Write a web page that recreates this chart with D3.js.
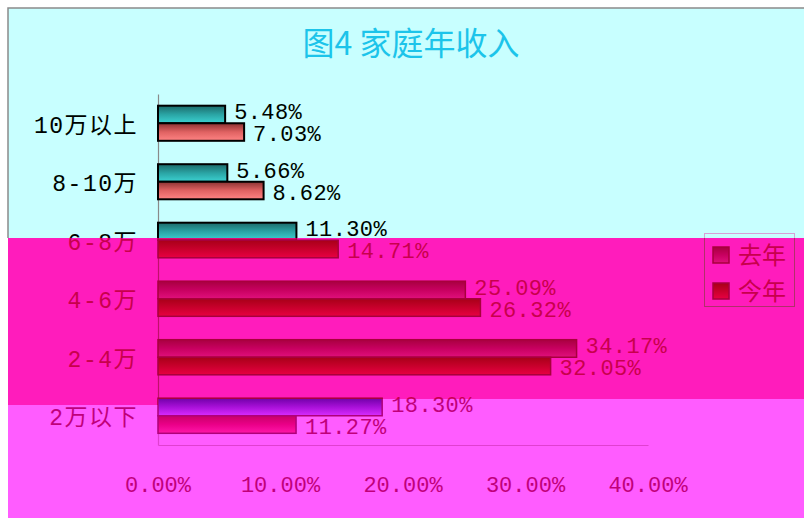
<!DOCTYPE html>
<html>
<head>
<meta charset="utf-8">
<script src="https://cdn.jsdelivr.net/npm/d3@7"></script>
<style>
  html, body { margin: 0; padding: 0; background: #ffffff; }
  svg { display: block; }
</style>
</head>
<body>
<svg id="chart" width="804" height="518"></svg>
<script>
// Household annual income, last year vs this year
const categories = ['10万以上', '8-10万', '6-8万', '4-6万', '2-4万', '2万以下'];
const seriesNames = ['去年', '今年'];
const lastYear = [5.48, 5.66, 11.30, 25.09, 34.17, 18.30];
const thisYear = [7.03, 8.62, 14.71, 26.32, 32.05, 11.27];
const xTicks = [0, 10, 20, 30, 40];
const title = '图4 家庭年收入';

const W = 804, H = 518;
const svg = d3.select('#chart');
const defs = svg.append('defs');

const x = d3.scaleLinear().domain([0, 40]).range([158, 648]);
const y = d3.scaleBand().domain(categories).range([94, 445])
  .paddingInner(0.4).paddingOuter(0.2);
const ys = d3.scaleBand().domain(seriesNames).range([0, y.bandwidth()]);
const pct = v => d3.format('.2f')(v) + '%';

const rows = categories.map((c, i) => ({ cat: c, values: [lastYear[i], thisYear[i]] }));
const bars = rows.flatMap(r => r.values.map((v, si) => ({ cat: r.cat, v, si, s: seriesNames[si] })));

// strip boundaries (the middle strip reaches a little lower left of the axis)
const stripTop = 238, stripBot = 399, stripBotLeft = 405;

// Three colour schemes, each shown in its own horizontal strip of the page
const palettes = [
  {
    id: 'top',
    clip: `M0,0H${W}V${stripTop}H0Z`,
    bg: '#c8ffff', frame: '#8a8a8a', text: '#000000',
    axis: '#8a8a8a', barStroke: '#000000', barStrokeW: 2, legendStroke: '#d8a0d8',
    grads: [['#1c6a6a', '#2aa4a4', '#3cd2d2'], ['#8a3232', '#e06262', '#ff8484']]
  },
  {
    id: 'mid',
    clip: `M0,${stripTop}H${W}V${stripBot}H158V${stripBotLeft}H0Z`,
    bg: '#ff1cbc', frame: null, text: '#c8004c',
    axis: '#c0106a', barStroke: '#a8003c', barStrokeW: 1.5, legendStroke: '#b0306a',
    grads: [['#a80040', '#c80060', '#e0107c'], ['#a80018', '#c8002c', '#e80042']]
  },
  {
    id: 'bot',
    clip: `M158,${stripBot}H${W}V${H}H0V${stripBotLeft}H158Z`,
    bg: '#ff5cff', frame: null, text: '#c0007a',
    axis: '#e040d0', barStroke: '#b0007a', barStrokeW: 1.5, legendStroke: '#b0007a',
    grads: [['#7000a8', '#a810d8', '#d82cff'], ['#c80068', '#ea0088', '#ff16aa']]
  }
];

// text colour switches at the strip edges (page coordinates)
function textGradient(id, lower) {
  const g = defs.append('linearGradient').attr('id', id)
    .attr('gradientUnits', 'userSpaceOnUse')
    .attr('x1', 0).attr('y1', 0).attr('x2', 0).attr('y2', H);
  [[0, 0], [stripTop, 0], [stripTop, 1], [lower, 1], [lower, 2], [H, 2]]
    .forEach(([yy, k]) => g.append('stop')
      .attr('offset', yy / H).attr('stop-color', palettes[k].text));
}
textGradient('text-fill', stripBot);
textGradient('text-fill-left', stripBotLeft);

function drawLayer(p) {
  defs.append('clipPath').attr('id', 'clip-' + p.id)
    .append('path').attr('d', p.clip);

  p.grads.forEach((stops, si) => {
    const g = defs.append('linearGradient').attr('id', `grad-${p.id}-${si}`)
      .attr('x1', 0).attr('y1', 0).attr('x2', 0).attr('y2', 1);
    stops.forEach((c, k) => g.append('stop')
      .attr('offset', k / (stops.length - 1)).attr('stop-color', c));
  });

  const layer = svg.append('g').attr('clip-path', `url(#clip-${p.id})`);

  // chart area background and frame
  layer.append('rect').attr('x', 8).attr('y', 8)
    .attr('width', W + 10).attr('height', H + 10)
    .attr('fill', p.bg)
    .attr('stroke', p.frame || 'none').attr('stroke-width', 1.5);

  // axis lines
  const yAxis = layer.append('g').attr('transform', `translate(${x(0)},0)`)
    .call(d3.axisLeft(y).tickSize(0).tickSizeOuter(0).tickFormat(''));
  yAxis.select('.domain').attr('stroke', p.axis).attr('stroke-width', 1.2);
  yAxis.selectAll('.tick').remove();

  const xAxis = layer.append('g').attr('transform', `translate(0,${y.range()[1]})`)
    .call(d3.axisBottom(x).tickValues(xTicks).tickSize(0).tickSizeOuter(0).tickFormat(''));
  xAxis.select('.domain').attr('stroke', p.axis).attr('stroke-width', 1.2);
  xAxis.selectAll('.tick').remove();

  // bars
  layer.append('g').selectAll('rect').data(bars).join('rect')
    .attr('x', x(0))
    .attr('y', d => y(d.cat) + ys(d.s))
    .attr('width', d => x(d.v) - x(0))
    .attr('height', ys.bandwidth())
    .attr('fill', d => `url(#grad-${p.id}-${d.si})`)
    .attr('stroke', p.barStroke).attr('stroke-width', p.barStrokeW);

  // legend box and keys
  layer.append('rect').attr('x', 704.5).attr('y', 233.5)
    .attr('width', 90).attr('height', 73)
    .attr('fill', 'none').attr('stroke', p.legendStroke).attr('stroke-width', 1);
  seriesNames.forEach((s, si) => {
    layer.append('rect').attr('x', 713).attr('y', 247 + si * 36)
      .attr('width', 16).attr('height', 16)
      .attr('fill', `url(#grad-${p.id}-${si})`)
      .attr('stroke', p.barStroke).attr('stroke-width', 1.5);
  });
}

palettes.forEach(drawLayer);

// ---- texts, drawn once on top of all strips, in page coordinates ----
const texts = svg.append('g');
const monoCjk = '"Liberation Mono", "Noto Sans CJK SC", monospace';

texts.append('text').attr('x', 411).attr('y', 43).attr('dy', '0.36em')
  .attr('text-anchor', 'middle')
  .attr('font-family', '"Noto Sans CJK SC", sans-serif')
  .attr('font-size', 32).attr('fill', '#1cc4ea')
  .text(title);

// category labels
texts.append('g').selectAll('text').data(categories).join('text')
  .attr('x', x(0) - 20)
  .attr('y', d => y(d) + y.bandwidth() / 2)
  .attr('dy', '0.42em')
  .attr('text-anchor', 'end')
  .attr('font-family', monoCjk)
  .attr('font-size', 23).attr('letter-spacing', 1.5)
  .attr('fill', 'url(#text-fill-left)')
  .text(d => d);

// value-axis tick labels
texts.append('g').selectAll('text').data(xTicks).join('text')
  .attr('x', d => x(d))
  .attr('y', y.range()[1] + 39)
  .attr('dy', '0.35em')
  .attr('text-anchor', 'middle')
  .attr('font-family', '"Liberation Mono", monospace')
  .attr('font-size', 22)
  .attr('fill', 'url(#text-fill)')
  .text(pct);

// bar value labels, the pair spread slightly apart
texts.append('g').selectAll('text').data(bars).join('text')
  .attr('x', d => x(d.v) + 9)
  .attr('y', d => y(d.cat) + ys(d.s) + ys.bandwidth() / 2 + (d.si === 0 ? -3 : 1.5))
  .attr('dy', '0.36em')
  .attr('font-family', '"Liberation Mono", monospace')
  .attr('font-size', 22).attr('letter-spacing', 0.4)
  .attr('fill', 'url(#text-fill)')
  .text(d => pct(d.v));

// legend labels
seriesNames.forEach((s, si) => {
  texts.append('text').attr('x', 738).attr('y', 255 + si * 36).attr('dy', '0.36em')
    .attr('font-family', '"Noto Sans CJK SC", sans-serif')
    .attr('font-size', 24).attr('fill', palettes[1].text)
    .text(s);
});
</script>
</body>
</html>
